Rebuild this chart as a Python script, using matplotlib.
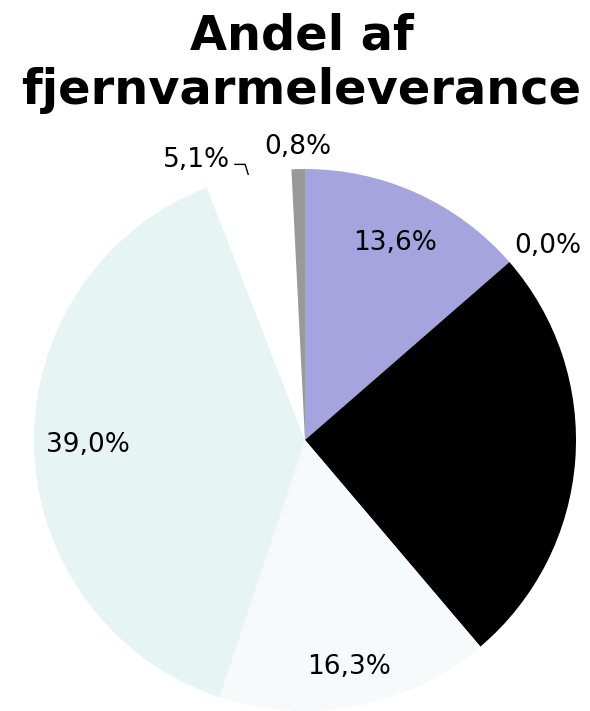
import numpy as np
import matplotlib
matplotlib.use("Agg")
import matplotlib.pyplot as plt

title = "Andel af\nfjernvarmeleverance"
labels = ["13,6%", "0,0%", "25,2%", "16,3%", "39,0%", "5,1%", "0,8%"]
values = [13.6, 0.0, 25.2, 16.3, 39.0, 5.1, 0.8]
colors = ["#A5A4DF", "#7F7FBF", "#000000", "#F6FAFB", "#E6F4F4", "#FFFFFF", "#999999"]

# label placement style: radius factor per slice (None = outside with leader)
label_r = [0.80, 1.15, 0.80, 0.855, 0.80, None, 1.08]

fig = plt.figure(figsize=(5.9, 7.11), dpi=100)
ax = fig.add_axes([(305 - 271) / 590, 0.0, 542 / 590, 542 / 711])
ax.pie(values, colors=colors, startangle=90, counterclock=False, radius=1.0,
       wedgeprops=dict(linewidth=0))
ax.set_xlim(-1, 1)
ax.set_ylim(-1, 1)
ax.set_aspect("equal")
ax.axis("off")

total = sum(values)
cum = np.cumsum([0] + values)
for i, (lab, v) in enumerate(zip(labels, values)):
    mid = (cum[i] + v / 2) / total * 360.0
    theta = np.deg2rad(90 - mid)
    tc = "black"
    if label_r[i] is None:
        ex, ey = np.cos(theta), np.sin(theta)
        bx, by = ex - 0.012, 1.017
        sx = bx - 0.04
        ax.plot([sx, bx, ex], [by, by, ey], color="black", lw=1.0,
                clip_on=False, solid_capstyle="butt")
        ax.text(sx - 0.015, by + 0.018, lab, ha="right", va="center",
                fontsize=19, color=tc, family="DejaVu Sans")
    else:
        r = label_r[i]
        x, y = r * np.cos(theta), r * np.sin(theta)
        if i == 1:
            x, y = x + 0.03, y - 0.04
        ax.text(x, y, lab, ha="center", va="center", fontsize=19, color=tc,
                family="DejaVu Sans", clip_on=False)

fig.text(0.511, 0.982, title, ha="center", va="top", fontsize=34.5,
         fontweight="bold", family="DejaVu Sans", linespacing=1.2)

fig.savefig("out.png", dpi=100)
